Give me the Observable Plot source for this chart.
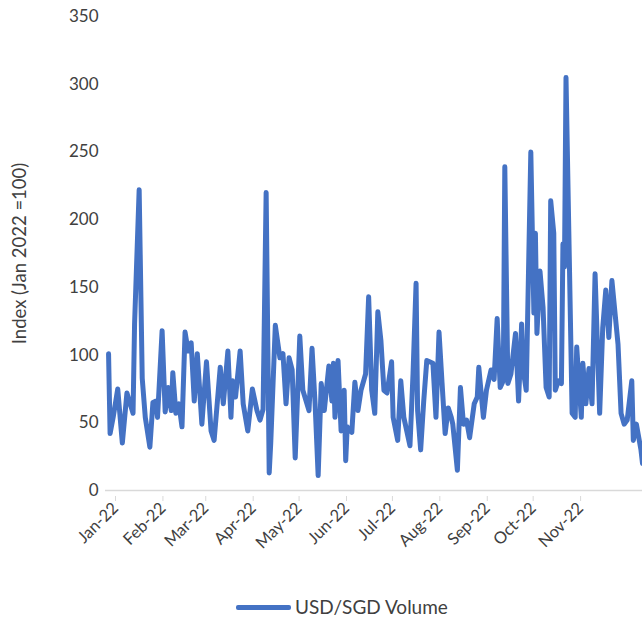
<!DOCTYPE html>
<html>
<head>
<meta charset="utf-8">
<script src="https://cdn.jsdelivr.net/npm/d3@7"></script>
<script src="https://cdn.jsdelivr.net/npm/@observablehq/plot@0.6"></script>
<style>
  html, body { margin: 0; padding: 0; background: #ffffff; }
  body { width: 642px; height: 621px; position: relative; overflow: hidden; font-family: Lato, "Open Sans", sans-serif; }
  #chart { position: absolute; left: 0; top: 0; }
  #legend { position: absolute; left: 0; top: 595px; width: 642px; height: 24px; }
  #legend .sw { position: absolute; left: 236px; top: 10px; width: 55px; height: 5px; background: #4472C4; border-radius: 2px; }
  #legend .lb { position: absolute; left: 295px; top: 0px; font-size: 19px; color: #404040; line-height: 24px; white-space: nowrap; }
</style>
</head>
<body>
<div id="chart"></div>
<div id="legend"><div class="sw"></div><div class="lb" id="legendLabel"></div></div>
<script>
const seriesName = "USD/SGD Volume";
const yLabel = "Index (Jan 2022 =100)";
const yTicks = [0, 50, 100, 150, 200, 250, 300, 350];
const monthTicks = ["2022-01-01","2022-02-01","2022-03-01","2022-04-01","2022-05-01","2022-06-01",
                    "2022-07-01","2022-08-01","2022-09-01","2022-10-01","2022-11-01"];

const dates = [
  "2022-01-03","2022-01-04","2022-01-06","2022-01-09","2022-01-12","2022-01-15","2022-01-19","2022-01-20",
  "2022-01-23","2022-01-25","2022-01-27","2022-01-30","2022-02-01","2022-02-03","2022-02-04","2022-02-05",
  "2022-02-07","2022-02-09","2022-02-11","2022-02-13","2022-02-14","2022-02-16","2022-02-18","2022-02-20",
  "2022-02-22","2022-02-24","2022-02-26","2022-02-28","2022-03-02","2022-03-05","2022-03-08","2022-03-11",
  "2022-03-13","2022-03-17","2022-03-19","2022-03-22","2022-03-24","2022-03-25","2022-03-27","2022-03-30",
  "2022-04-01","2022-04-04","2022-04-07","2022-04-10","2022-04-12","2022-04-14","2022-04-16","2022-04-18",
  "2022-04-19","2022-04-22","2022-04-25","2022-04-27","2022-04-29","2022-05-01","2022-05-03","2022-05-05",
  "2022-05-08","2022-05-10","2022-05-14","2022-05-16","2022-05-18","2022-05-20","2022-05-22","2022-05-24",
  "2022-05-27","2022-05-29","2022-05-30","2022-05-31","2022-06-02","2022-06-04","2022-06-06","2022-06-07",
  "2022-06-08","2022-06-11","2022-06-13","2022-06-15","2022-06-17","2022-06-20","2022-06-22","2022-06-24",
  "2022-06-26","2022-06-28","2022-06-30","2022-07-02","2022-07-04","2022-07-07","2022-07-08","2022-07-11",
  "2022-07-13","2022-07-15","2022-07-19","2022-07-21","2022-07-23","2022-07-24","2022-07-26","2022-07-28",
  "2022-07-30","2022-08-03","2022-08-05","2022-08-07","2022-08-09","2022-08-11","2022-08-13","2022-08-15",
  "2022-08-16","2022-08-19","2022-08-21","2022-08-23","2022-08-25","2022-08-27","2022-08-30","2022-09-01",
  "2022-09-02","2022-09-05","2022-09-07","2022-09-10","2022-09-12","2022-09-14","2022-09-16","2022-09-18",
  "2022-09-19","2022-09-21","2022-09-23","2022-09-26","2022-09-28","2022-09-30","2022-10-01","2022-10-03",
  "2022-10-06","2022-10-08","2022-10-09","2022-10-10","2022-10-12","2022-10-14","2022-10-16","2022-10-18",
  "2022-10-19","2022-10-21","2022-10-22","2022-10-24","2022-10-26","2022-10-27","2022-10-28","2022-10-29",
  "2022-11-02","2022-11-04","2022-11-05","2022-11-08","2022-11-09","2022-11-11","2022-11-13","2022-11-15",
  "2022-11-17","2022-11-20","2022-11-22","2022-11-24","2022-11-26","2022-11-28","2022-12-02","2022-12-04",
  "2022-12-06","2022-12-08","2022-12-11","2022-12-12","2022-12-14","2022-12-17","2022-12-18"
];
const values = [
  101, 42, 54, 75, 35, 72, 57, 123,
  222, 83, 54, 32, 65, 66, 54, 75,
  118, 58, 76, 59, 87, 57, 64, 47,
  117, 103, 109, 66, 101, 49, 95, 44,
  37, 91, 64, 103, 54, 81, 69, 103,
  64, 44, 75, 59, 52, 60, 220, 13,
  35, 122, 98, 101, 64, 98, 89, 24,
  114, 74, 59, 105, 64, 11, 79, 59,
  92, 66, 94, 54, 96, 44, 74, 22,
  47, 43, 80, 59, 74, 86, 143, 74,
  57, 132, 111, 74, 72, 95, 54, 37,
  81, 54, 33, 86, 153, 59, 30, 66,
  96, 94, 54, 117, 79, 42, 61, 54,
  49, 15, 76, 49, 52, 39, 64, 69,
  91, 54, 74, 89, 82, 127, 76, 81,
  239, 79, 86, 116, 66, 123, 89, 74,
  250, 131, 190, 116, 162, 135, 76, 69,
  214, 190, 74, 81, 79, 182, 165, 305,
  57, 54, 106, 54, 94, 64, 90, 64,
  160, 57, 120, 148, 113, 155, 108, 57,
  49, 52, 81, 37, 49, 30, 20
];

const data = dates.map((d, i) => ({ date: new Date(d), value: values[i] }));

const plot = Plot.plot({
  width: 642,
  height: 560,
  marginLeft: 105,
  marginRight: 0,
  marginTop: 16,
  marginBottom: 70,
  style: { fontFamily: "Lato, 'Open Sans', sans-serif", fontSize: "17px", color: "#404040", background: "#ffffff" },
  x: { type: "utc", domain: [new Date("2022-01-01"), new Date("2022-12-18")] },
  y: { domain: [0, 350] },
  marks: [
    Plot.ruleY([0], { stroke: "#d9d9d9", strokeWidth: 1.5 }),
    Plot.axisY({ ticks: yTicks, tickSize: 0, tickPadding: 7, label: null, fontSize: 17, fill: "#404040" }),
    Plot.axisX({
      ticks: monthTicks.map(d => new Date(d)),
      tickFormat: d3.utcFormat("%b-%y"),
      tickRotate: -45,
      tickSize: 5,
      tickPadding: 4,
      stroke: "#d9d9d9",
      fill: "#404040",
      label: null,
      fontSize: 16.5,
      dx: 10,
      dy: 6
    }),
    Plot.lineY(data, { x: "date", y: "value", stroke: "#4472C4", strokeWidth: 5, strokeLinejoin: "round", clip: true }),
    Plot.text([yLabel], { text: d => d, frameAnchor: "left", textAnchor: "middle", dx: -85, rotate: -90, fontSize: 18.5, fill: "#404040" })
  ]
});
document.getElementById("chart").appendChild(plot);
document.getElementById("legendLabel").textContent = seriesName;
</script>
</body>
</html>
